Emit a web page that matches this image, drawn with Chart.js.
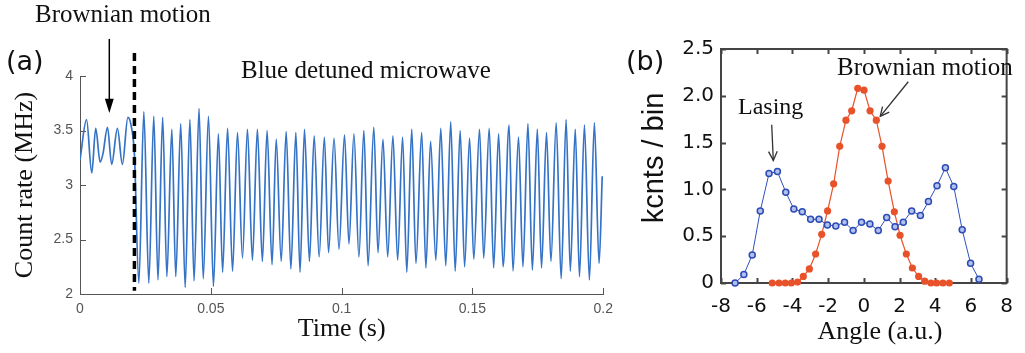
<!DOCTYPE html>
<html>
<head>
<meta charset="utf-8">
<script src="https://cdn.jsdelivr.net/npm/chart.js@4.4.1/dist/chart.umd.min.js"></script>
<style>
  html, body { margin: 0; padding: 0; background: #fff; width: 1025px; height: 353px; overflow: hidden; }
  #panelA { position: absolute; left: 0; top: 0; }
  #panelB { position: absolute; left: 620px; top: 0; }
</style>
</head>
<body>
<canvas id="panelA" width="620" height="353"></canvas>
<canvas id="panelB" width="405" height="353"></canvas>
<script>
const tiempoA = [
  0, 0.0025, 0.0045, 0.006, 0.0077, 0.0088, 0.0105, 0.0121, 0.0143, 0.0162, 0.0183, 0.0195, 0.0208,
  0.0225, 0.0244, 0.0263, 0.0282, 0.0298, 0.0316, 0.0332, 0.0351, 0.0366, 0.0385, 0.0402, 0.042,
  0.0436, 0.0455, 0.0471, 0.0491, 0.051, 0.0529, 0.0545, 0.0564, 0.0583, 0.0602, 0.0621, 0.064,
  0.0659, 0.0678, 0.0697, 0.0715, 0.0734, 0.075, 0.0769, 0.0788, 0.0806, 0.0825, 0.0841, 0.0858,
  0.0877, 0.0895, 0.0914, 0.0934, 0.095, 0.0971, 0.099, 0.1011, 0.1028, 0.1047, 0.1066, 0.1085,
  0.1101, 0.1123, 0.1139, 0.1158, 0.1176, 0.1196, 0.1214, 0.1233, 0.1249, 0.1268, 0.1284, 0.1306,
  0.1322, 0.134, 0.136, 0.1379, 0.1398, 0.1417, 0.1434, 0.1453, 0.147, 0.1489, 0.1505, 0.1527,
  0.1543, 0.1564, 0.1581, 0.16, 0.1617, 0.164, 0.1655, 0.1676, 0.1693, 0.1712, 0.1729, 0.1748,
  0.1764, 0.1783, 0.18, 0.182, 0.1839, 0.1858, 0.1874, 0.1893, 0.1909, 0.1928, 0.1947, 0.1966,
  0.1984, 0.1996
];
const tasaA = [
  3.23, 3.60, 3.11, 3.52, 3.21, 3.29, 3.53, 3.19, 3.52, 3.19, 3.62, 3.55, 3.28,
  2.10, 3.67, 2.10, 3.63, 2.13, 3.62, 2.16, 3.51, 2.16, 3.56, 2.06, 3.60,
  2.12, 3.70, 2.14, 3.63, 2.07, 3.47, 2.20, 3.52, 2.21, 3.48, 2.33, 3.51,
  2.31, 3.51, 2.30, 3.50, 2.27, 3.42, 2.30, 3.49, 2.23, 3.48, 2.20, 3.51,
  2.30, 3.45, 2.34, 3.44, 2.38, 3.43, 2.41, 3.46, 2.46, 3.47, 2.34, 3.50,
  2.26, 3.53, 2.38, 3.42, 2.34, 3.45, 2.31, 3.44, 2.20, 3.51, 2.28, 3.48,
  2.24, 3.40, 2.31, 3.52, 2.26, 3.58, 2.21, 3.50, 2.25, 3.43, 2.32, 3.51,
  2.33, 3.52, 2.24, 3.47, 2.25, 3.55, 2.21, 3.44, 2.25, 3.56, 2.22, 3.51,
  2.24, 3.48, 2.30, 3.57, 2.14, 3.60, 2.21, 3.51, 2.16, 3.55, 2.13, 3.57,
  2.28, 3.08
];
const ticksXA = [0, 0.05, 0.1, 0.15, 0.2];
const ticksYA = [2, 2.5, 3, 3.5, 4];
const inicioMicroondas = 0.0208;

// Panel (b): histogramas de angulo (kcnts / bin)
const anguloLaser = [
  -7.21, -6.72, -6.25, -5.80, -5.31, -4.84, -4.37, -3.92, -3.45, -2.98, -2.51, -2.04, -1.57, -1.08, -0.60,
  -0.13, 0.34, 0.81, 1.28, 1.75, 2.21, 2.68, 3.17, 3.62, 4.10, 4.57, 5.04, 5.51, 5.98, 6.45
];
const cuentasLaser = [
  0.00, 0.09, 0.30, 0.77, 1.17, 1.19, 0.97, 0.79, 0.76, 0.68, 0.68, 0.62, 0.61, 0.65, 0.56,
  0.65, 0.63, 0.56, 0.70, 0.60, 0.65, 0.77, 0.72, 0.87, 1.04, 1.23, 1.03, 0.57, 0.21, 0.04
];
const anguloBrown = [
  -5.13, -4.75, -4.40, -4.06, -3.71, -3.39, -3.05, -2.70, -2.36, -2.03, -1.69, -1.35, -1.00, -0.68, -0.34,
  0.01, 0.35, 0.70, 1.02, 1.36, 1.71, 2.03, 2.38, 2.72, 3.07, 3.41, 3.76, 4.08, 4.43, 4.79
];
const cuentasBrown = [
  0.00, 0.00, 0.00, 0.00, 0.01, 0.07, 0.15, 0.31, 0.52, 0.77, 1.06, 1.46, 1.74, 1.84, 2.08,
  2.06, 1.84, 1.74, 1.46, 1.09, 0.76, 0.51, 0.31, 0.16, 0.07, 0.02, 0.00, 0.00, 0.00, 0.00
];
const ticksXB = [-8, -6, -4, -2, 0, 2, 4, 6, 8];
const ticksYB = [0, 0.5, 1, 1.5, 2, 2.5];
const etiquetasYB = ["0", "0.5", "1.0", "1.5", "2.0", "2.5"];

const SERIF = '"Liberation Serif", "Times New Roman", serif';
const SANS = '"Liberation Sans", Arial, sans-serif';
const DEJAVU = '"DejaVu Sans", sans-serif';

const aPuntos = (xs, ys) => xs.map((x, i) => ({ x, y: ys[i] }));
const fijarTicks = (valores) => (escala) => { escala.ticks = valores.map((value) => ({ value })); };

// Marcas de eje hacia dentro (estilo MATLAB) y caja opcional
const marcasInternas = {
  id: "marcasInternas",
  beforeDatasetsDraw(chart, args, opts) {
    const { ctx, chartArea: a, scales: { x, y } } = chart;
    ctx.save();
    ctx.strokeStyle = opts.color;
    ctx.lineWidth = opts.width;
    if (opts.caja) ctx.strokeRect(a.left, a.top, a.right - a.left, a.bottom - a.top);
    ctx.beginPath();
    x.ticks.forEach((t) => {
      const px = Math.round(x.getPixelForValue(t.value)) + 0.5;
      ctx.moveTo(px, a.bottom); ctx.lineTo(px, a.bottom - opts.largo);
      if (opts.caja) { ctx.moveTo(px, a.top); ctx.lineTo(px, a.top + opts.largo); }
    });
    y.ticks.forEach((t) => {
      const py = Math.round(y.getPixelForValue(t.value)) + 0.5;
      ctx.moveTo(a.left, py); ctx.lineTo(a.left + opts.largo, py);
      if (opts.caja) { ctx.moveTo(a.right, py); ctx.lineTo(a.right - opts.largo, py); }
    });
    ctx.stroke();
    ctx.restore();
  },
};

const dibujarFlecha = (ctx, x0, y0, x1, y1, relleno) => {
  const ang = Math.atan2(y1 - y0, x1 - x0);
  const largo = relleno ? 15 : 10;
  const abre = relleno ? 0.3 : 0.45;
  const recorte = relleno ? largo * 0.8 : 0;
  ctx.beginPath();
  ctx.moveTo(x0, y0);
  ctx.lineTo(x1 - recorte * Math.cos(ang), y1 - recorte * Math.sin(ang));
  ctx.stroke();
  ctx.beginPath();
  ctx.moveTo(x1 - largo * Math.cos(ang - abre), y1 - largo * Math.sin(ang - abre));
  ctx.lineTo(x1, y1);
  ctx.lineTo(x1 - largo * Math.cos(ang + abre), y1 - largo * Math.sin(ang + abre));
  if (relleno) { ctx.closePath(); ctx.fill(); } else ctx.stroke();
};

const escribir = (ctx, texto, x, y, fuente, alinear = "left", rotar = 0) => {
  ctx.save();
  ctx.font = fuente;
  ctx.fillStyle = "#111";
  ctx.textAlign = alinear;
  ctx.textBaseline = "alphabetic";
  ctx.translate(x, y);
  ctx.rotate(rotar);
  ctx.fillText(texto, 0, 0);
  ctx.restore();
};

// Anotaciones del panel (a)
const notasA = {
  id: "notasA",
  afterDraw(chart) {
    const { ctx, scales: { x, y } } = chart;
    ctx.save();
    // linea discontinua: encendido del microondas
    const px = x.getPixelForValue(inicioMicroondas);
    ctx.strokeStyle = "#000";
    ctx.lineWidth = 3.5;
    ctx.setLineDash([8, 5]);
    ctx.beginPath();
    ctx.moveTo(px, y.getPixelForValue(4.21));
    ctx.lineTo(px, y.getPixelForValue(2.03));
    ctx.stroke();
    ctx.setLineDash([]);
    // flecha "Brownian motion"
    ctx.lineWidth = 1.5;
    ctx.fillStyle = "#000";
    const fx = x.getPixelForValue(0.0112);
    dibujarFlecha(ctx, fx, y.getPixelForValue(4.34), fx, y.getPixelForValue(3.66), true);
    ctx.restore();
    escribir(ctx, "Brownian motion", 35, 22, "25px " + SERIF);
    escribir(ctx, "Blue detuned microwave", 241, 78, "25px " + SERIF);
    escribir(ctx, "(a)", 6, 70, "27px " + DEJAVU);
  },
};

// Anotaciones del panel (b)
const notasB = {
  id: "notasB",
  afterDraw(chart) {
    const { ctx, scales: { x, y } } = chart;
    ctx.save();
    ctx.strokeStyle = "#333";
    ctx.lineWidth = 1.3;
    dibujarFlecha(ctx, x.getPixelForValue(-5.16), y.getPixelForValue(1.69), x.getPixelForValue(-5.07), y.getPixelForValue(1.31), false);
    dibujarFlecha(ctx, x.getPixelForValue(2.49), y.getPixelForValue(2.15), x.getPixelForValue(0.92), y.getPixelForValue(1.78), false);
    ctx.restore();
    escribir(ctx, "Lasing", 118, 114, "24px " + SERIF);
    escribir(ctx, "Brownian motion", 217, 75, "25px " + SERIF);
    escribir(ctx, "(b)", 6, 70, "27px " + DEJAVU);
    escribir(ctx, "kcnts / bin", 43, 158, "29px " + SANS, "center", -Math.PI / 2);
    escribir(ctx, "Angle (a.u.)", 260, 339, "26px " + SERIF, "center");
  },
};

new Chart(document.getElementById("panelA"), {
  type: "line",
  data: {
    datasets: [{
      data: aPuntos(tiempoA, tasaA),
      borderColor: "#3573c6",
      borderWidth: 1.7,
      pointRadius: 0,
      cubicInterpolationMode: "monotone",
    }],
  },
  options: {
    responsive: false,
    animation: false,
    events: [],
    layout: { padding: { left: 0, top: 76, right: 12, bottom: 0 } },
    plugins: {
      legend: { display: false },
      tooltip: { enabled: false },
      marcasInternas: { color: "#555", width: 1, largo: 6, caja: false },
    },
    scales: {
      x: {
        type: "linear", min: 0, max: 0.2,
        afterBuildTicks: fijarTicks(ticksXA),
        afterFit: (s) => { s.height = 59; },
        grid: { display: false, drawTicks: false },
        border: { display: true, color: "#555", width: 1 },
        ticks: { padding: 7, color: "#555", font: { family: SANS, size: 14 }, maxRotation: 0, callback: (v) => String(v) },
        title: { display: true, text: "Time (s)", color: "#111", font: { family: SERIF, size: 26 }, padding: { top: 0, bottom: 8 } },
      },
      y: {
        min: 2, max: 4,
        afterBuildTicks: fijarTicks(ticksYA),
        afterFit: (s) => { s.width = 80; },
        grid: { display: false, drawTicks: false },
        border: { display: true, color: "#555", width: 1 },
        ticks: { padding: 7, color: "#555", font: { family: SANS, size: 14 }, callback: (v) => String(v) },
        title: { display: true, text: "Count rate (MHz)", color: "#111", font: { family: SERIF, size: 26 }, padding: { top: 10, bottom: 0 } },
      },
    },
  },
  plugins: [marcasInternas, notasA],
});

new Chart(document.getElementById("panelB"), {
  type: "line",
  data: {
    datasets: [
      {
        data: aPuntos(anguloLaser, cuentasLaser),
        borderColor: "#2f50bd",
        borderWidth: 1,
        pointRadius: 3,
        pointBorderWidth: 1.5,
        pointBorderColor: "#2b4bb5",
        pointBackgroundColor: "#b3c0ee",
        clip: false,
      },
      {
        data: aPuntos(anguloBrown, cuentasBrown),
        borderColor: "#e8522a",
        borderWidth: 1.2,
        pointRadius: 3.6,
        pointBorderWidth: 0,
        pointBackgroundColor: "#e8522a",
        clip: false,
      },
    ],
  },
  options: {
    responsive: false,
    animation: false,
    events: [],
    layout: { padding: { left: 0, top: 49, right: 8, bottom: 0 } },
    plugins: {
      legend: { display: false },
      tooltip: { enabled: false },
      marcasInternas: { color: "#444", width: 2, largo: 5, caja: true },
    },
    scales: {
      x: {
        type: "linear", min: -8, max: 8,
        afterBuildTicks: fijarTicks(ticksXB),
        afterFit: (s) => { s.height = 70; },
        grid: { display: false, drawTicks: false },
        border: { display: false },
        ticks: { padding: 12, color: "#111", font: { family: DEJAVU, size: 20 }, maxRotation: 0, callback: (v) => String(v) },
      },
      y: {
        min: 0, max: 2.5,
        afterBuildTicks: fijarTicks(ticksYB),
        afterFit: (s) => { s.width = 101; },
        grid: { display: false, drawTicks: false },
        border: { display: false },
        ticks: { padding: 7, color: "#111", font: { family: DEJAVU, size: 20 }, callback: (v) => etiquetasYB[ticksYB.indexOf(v)] },
      },
    },
  },
  plugins: [marcasInternas, notasB],
});
</script>
</body>
</html>
